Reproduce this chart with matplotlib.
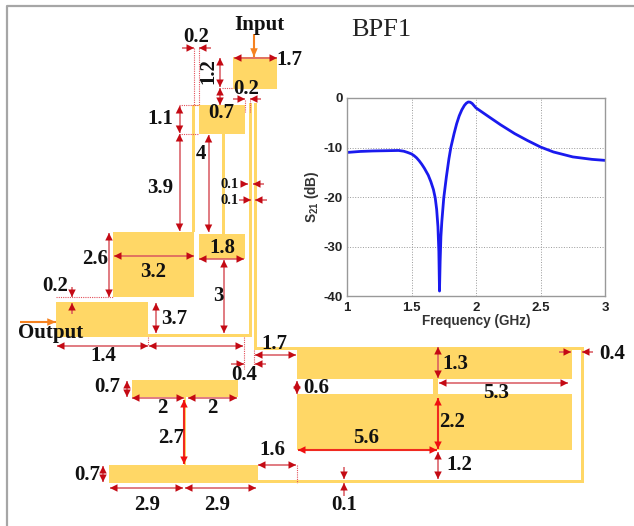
import matplotlib
matplotlib.use("Agg")
import matplotlib.pyplot as plt

# S21 response
freq = [1, 1.1, 1.2, 1.3, 1.4, 1.44, 1.47, 1.5, 1.52, 1.54, 1.56, 1.58, 1.6, 1.63, 1.65,
        1.67, 1.684, 1.695, 1.705, 1.712, 1.717, 1.722, 1.728, 1.735, 1.75, 1.77, 1.79,
        1.805, 1.83, 1.85, 1.87, 1.89, 1.91, 1.925, 1.94, 1.955, 1.97, 2, 2.05, 2.1, 2.19,
        2.3, 2.4, 2.5, 2.6, 2.75, 2.9, 3]
s21 = [-11, -10.8, -10.7, -10.65, -10.6, -10.75, -11, -11.3, -11.65, -12.1, -12.7, -13.4,
       -14.2, -15.6, -16.9, -18.5, -20.2, -22.5, -26, -31, -39, -33, -28, -25, -20.2, -16,
       -12.3, -10, -7.2, -5.2, -3.6, -2.4, -1.5, -1.05, -0.8, -0.85, -1.1, -2, -2.9, -3.8,
       -5.4, -7.2, -8.6, -9.9, -10.9, -11.9, -12.4, -12.6]
xticks = [1, 1.5, 2, 2.5, 3]
xticklabels = ["1", "1.5", "2", "2.5", "3"]
yticks = [0, -10, -20, -30, -40]
yticklabels = ["0", "-10", "-20", "-30", "-40"]

# layout in image pixels: x0, y0, x1, y1
patches = [
    (233, 57, 277, 89), (199, 105, 245, 134), (192, 105, 195, 232), (195, 105, 199, 106),
    (222, 134, 225, 234), (199, 234, 245, 259), (113, 232, 194, 297), (56, 302, 148, 337),
    (148, 334, 252, 337), (249, 103, 252, 337), (254, 103, 257, 350), (254, 347, 297, 350),
    (132, 380, 238, 397), (184, 397, 186, 465), (109, 465, 258, 483), (258, 480, 584, 483),
    (297, 347, 572, 379), (297, 394, 572, 450), (433, 379, 438, 394),
    (572, 347, 584, 350), (581, 347, 584, 483),
]

# dimension arrows: x0, y0, x1, y1
dims = [
    (234, 58, 277, 58), (220, 58, 220, 87), (220, 88, 220, 105), (179.5, 106, 179.5, 133),
    (179.5, 134, 179.5, 231), (208.5, 135, 208.5, 232), (109, 233, 109, 297),
    (114, 256, 194, 256), (199, 259, 244, 259), (224, 260, 224, 333), (156, 303, 156, 333),
    (57, 346, 148, 346), (149, 346, 243, 346), (255, 355, 296, 355), (127, 381, 127, 397),
    (132, 398, 184, 398), (188, 398, 237, 398), (258, 465, 296, 465), (103, 466, 103, 482),
    (110, 488, 183, 488), (185, 488, 256, 488), (297, 381, 297, 394), (438, 347, 438, 378),
    (439, 383, 568, 383), (438, 452, 438, 479),
]
dims_bright = [(184, 400, 184, 464), (438, 398, 438, 449), (298, 450, 437, 450)]
singles = [
    (231, 364, 244, 364), (266, 364, 255, 364), (559, 352, 571, 352), (593, 352, 582, 352),
    (344, 467, 344, 479), (344, 496, 344, 483), (72, 287, 72, 297), (72, 314, 72, 303),
    (182, 48, 194, 48), (211, 48, 199, 48), (233, 99, 245, 99), (261, 99, 250, 99),
    (241, 184, 248, 184), (264, 184, 253, 184), (239, 200, 251, 200), (267, 200, 255, 200),
]
feeds = [(254, 34, 254, 57), (20, 322, 56, 322)]
dotted = [
    (194, 48, 194, 105), (199, 48, 199, 105), (179, 105, 199, 105), (179, 134, 198, 134),
    (222, 88, 233, 88), (56, 297, 113, 297), (148, 337, 148, 346), (244, 337, 244, 369),
    (254, 350, 254, 369), (297, 465, 297, 483), (245, 100, 245, 112), (250, 100, 250, 112),
]

labels = ["Input", "1.7", "0.2", "0.2", "0.7", "1.1", "4", "3.9", "1.8", "2.6", "3.2",
          "0.2", "3.7", "3", "Output", "1.4", "1.7", "0.4", "0.7", "2", "2", "2.7", "1.6",
          "0.7", "2.9", "2.9", "0.6", "1.3", "5.3", "2.2", "5.6", "1.2", "0.4", "0.1"]
label_x = [259, 289, 196, 246, 221, 160, 201, 160, 222, 95, 153,
           55, 174, 218, 51, 103, 274, 244, 107, 162, 212, 171, 272,
           87, 147, 217, 316, 455, 496, 452, 366, 459, 612, 344]
label_y = [25, 60, 37, 89, 113, 119, 154, 188, 248, 259, 272,
           286, 319, 296, 333, 356, 344, 375, 387, 408, 408, 438, 450,
           475, 505, 505, 388, 364, 393, 422, 438, 465, 354, 505]

SERIF = "Liberation Serif"
SANS = "Liberation Sans"
GOLD = "#ffd766"

plt.rcParams["mathtext.fontset"] = "custom"
plt.rcParams["mathtext.bf"] = "Liberation Sans:bold"

fig = plt.figure(figsize=(6.34, 5.26), dpi=100)
ax = fig.add_axes([0, 0, 1, 1])
ax.set_xlim(0, 634)
ax.set_ylim(526, 0)
ax.axis("off")

# picture frame
ax.plot([7, 7, 634], [526, 6, 6], color="#a6a6a6", lw=1.6)

for x0, y0, x1, y1 in patches:
    ax.fill([x0, x1, x1, x0], [y0, y0, y1, y1], color=GOLD, lw=0)

for x0, y0, x1, y1 in dotted:
    ax.plot([x0, x1], [y0, y1], color="#e2505a", lw=0.8, ls=(0, (1, 1)))


def arrow(seg, style, color, shaft, scale=9, lw=1.1):
    # shaft first so the heads stay darker than the line
    ax.plot([seg[0], seg[2]], [seg[1], seg[3]], color=shaft, lw=lw, solid_capstyle="butt")
    ax.annotate("", xy=seg[2:], xytext=seg[:2],
                arrowprops=dict(arrowstyle=style, color=color, lw=0,
                                mutation_scale=scale, shrinkA=0, shrinkB=0))


for seg in dims:
    arrow(seg, "<|-|>,head_length=0.6,head_width=0.3", "#c40a14", "#d8575f")
for seg in dims_bright:
    arrow(seg, "<|-|>,head_length=0.6,head_width=0.3", "#f01010", "#f02a20", lw=1.5)
for seg in singles:
    arrow(seg, "-|>,head_length=0.6,head_width=0.3", "#c40a14", "#d8575f")
for seg in feeds:
    arrow(seg, "-|>,head_length=0.7,head_width=0.3", "#f58220", "#f58220", lw=1.5)

for s, x, y in zip(labels, label_x, label_y):
    ax.text(x, y, s, family=SERIF, weight="bold", fontsize=15, color="#111111",
            ha="center", va="center")
ax.text(208, 71, "1.2", family=SERIF, weight="bold", fontsize=15, color="#111111",
        rotation=90, ha="center", va="center")
ax.text(230, 184, "0.1", family=SERIF, weight="bold", fontsize=10.5, color="#111111",
        ha="center", va="center")
ax.text(230, 200, "0.1", family=SERIF, weight="bold", fontsize=10.5, color="#111111",
        ha="center", va="center")
ax.text(381, 30, "BPF1", family=SERIF, fontsize=19, color="#222222", ha="center", va="center")

# inset S21 plot
inset = fig.add_axes([347 / 634, 1 - 296 / 526, 258 / 634, 198 / 526])
inset.plot(freq, s21, color="#1a1aee", lw=2)
inset.set_xlim(1, 3)
inset.set_ylim(-40, 0)
inset.set_xticks(xticks)
inset.set_xticklabels(xticklabels)
inset.set_yticks(yticks)
inset.set_yticklabels(yticklabels)
inset.grid(True, color="#9a9a9a", lw=0.7, ls=":")
inset.tick_params(axis="x", length=0, pad=4, labelsize=9.5, labelcolor="#222222")
inset.tick_params(axis="y", length=0, pad=3, labelsize=9.5, labelcolor="#222222")
for lab in inset.get_xticklabels() + inset.get_yticklabels():
    lab.set_family(SANS)
    lab.set_weight("bold")
for sp in inset.spines.values():
    sp.set_color("#999999")
    sp.set_linewidth(1)
inset.set_xlabel("Frequency (GHz)", family=SANS, weight="bold", fontsize=9.8, color="#333333", labelpad=0)
inset.set_ylabel(r"S$_{\mathbf{21}}$ (dB)", family=SANS, weight="bold", fontsize=9.8, color="#333333", labelpad=2)

fig.savefig("out.png", dpi=100)
